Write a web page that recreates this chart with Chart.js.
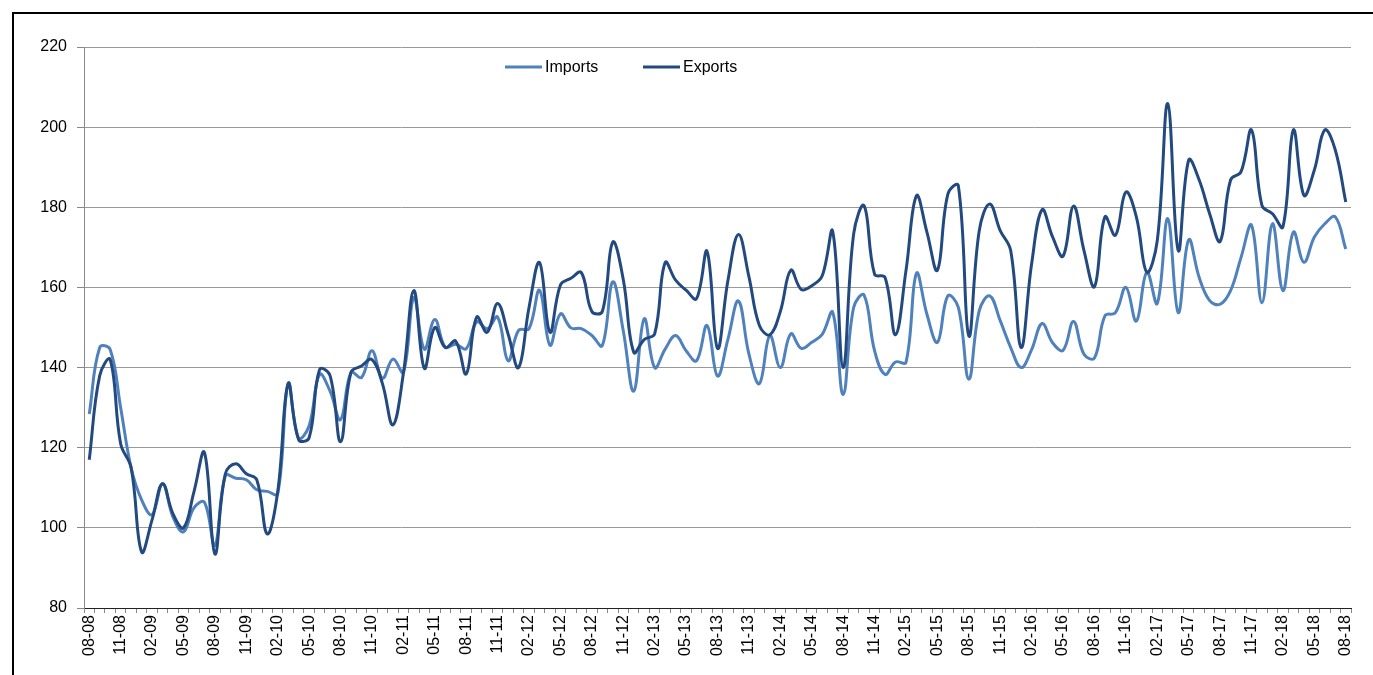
<!DOCTYPE html>
<html lang="en">
<head>
  <meta charset="UTF-8" />
  <title>Imports and Exports</title>
  <script src="https://cdn.jsdelivr.net/npm/chart.js"></script>
  <style>
    body {
      margin: 0;
      background: #fff;
      font-family: "Liberation Sans", Arial, sans-serif;
    }
    #frame {
      position: absolute;
      left: 12px;
      top: 12px;
      width: 1400px;
      height: 700px;
      border-top: 2px solid #000;
      border-left: 2px solid #000;
    }
    canvas {
      position: absolute;
      left: 0;
      top: 0;
    }
  </style>
</head>
<body>

<div id="frame"></div>
<canvas id="tradeChart" width="1373" height="675"></canvas>

<script>
  // months 08-08 .. 08-18, labelled MM-YY
  const months = [];
  for (let y = 8, m = 8; y < 18 || (y === 18 && m <= 8); ) {
    months.push(String(m).padStart(2, '0') + '-' + String(y).padStart(2, '0'));
    m++;
    if (m > 12) { m = 1; y++; }
  }

  const imports = [
    128.4, 145, 144.5, 130, 115, 107, 103.3, 111, 102.7, 99,
    105, 106.4, 95.6, 113, 112.4, 112, 109.5, 109.1, 108.5, 136,
    122.4, 125.5, 138.3, 134.1, 127, 138.8, 137.5, 144.2, 137.3, 142.1,
    138.8, 157.5, 144.6, 152, 145.1, 145.8, 144.7, 151.4, 149.7, 152.6,
    141.7, 149.3, 149.7, 159.3, 145.6, 153.4, 149.9, 149.7, 148, 145.5,
    161.4, 149.2, 134.1, 152.2, 140, 144.6, 148, 144.2, 141.7, 150.5,
    137.9, 147.1, 156.6, 143.4, 136, 148, 140, 148.4, 144.8, 146.3,
    148.3, 153.8, 133.3, 155, 158.1, 144.2, 138.3, 141.4, 141.3, 163.5,
    153.3, 146.3, 157.9, 155, 137.1, 154.2, 157.9, 151.7, 145, 140,
    144.5, 151, 146.2, 144.3, 151.5, 143.3, 142.4, 152.9, 153.7, 160,
    151.6, 163.8, 156, 177.2, 153.7, 171.9, 162.5, 156.7, 155.8, 159.2,
    167.5, 175.5, 156.2, 175.9, 159.2, 173.8, 166.3, 172.6, 175.9, 177.6,
    169.6
  ];

  const exports = [
    117, 138, 142, 121, 115, 94, 102, 111, 103.5, 100,
    109, 118.8, 93.5, 113.5, 116, 113.5, 112, 98.5, 109, 136,
    122, 122.5, 139.5, 138, 121.5, 138.8, 140.4, 142, 136, 125.7,
    138.5, 159.2, 139.8, 150, 145, 146.6, 138.4, 152.6, 148.8, 156,
    148.4, 140, 155, 166.2, 148.8, 160.6, 162.3, 163.7, 154, 154,
    171.3, 162, 143.8, 147, 148.4, 166.2, 161.8, 159.3, 157.2, 169,
    144.8, 161.8, 173.2, 162.7, 150.5, 148.2, 154, 164.3, 159.5, 160.4,
    162.9, 174, 140, 173.3, 180.4, 163.3, 162.5, 148.2, 164.2, 182.9,
    173.8, 164.3, 183.3, 185.4, 147.9, 174.2, 180.8, 174.2, 169.2, 145,
    165.9, 179.4, 172.6, 167.8, 180.3, 169.2, 160.2, 177.6, 173, 183.8,
    177.6, 163.8, 171.7, 205.9, 169.2, 191.8, 186.8, 178.4, 171.5, 186.8,
    188.9, 199.3, 180.4, 178.4, 175.1, 199.3, 183, 189.3, 199.3, 194.3,
    181.3
  ];

  const yTicks = [80, 100, 120, 140, 160, 180, 200, 220];

  const IMPORTS_COLOR = '#4f81bd';
  const EXPORTS_COLOR = '#234a80';
  const FONT = { family: '"Liberation Sans", Arial, sans-serif', size: 16 };

  // legend sits inside the plot area, like the original
  const innerLegend = {
    id: 'innerLegend',
    afterDraw(chart) {
      const ctx = chart.ctx;
      const y = 67;
      const items = [
        { x: 505, label: 'Imports', color: IMPORTS_COLOR },
        { x: 643, label: 'Exports', color: EXPORTS_COLOR }
      ];
      ctx.save();
      ctx.font = '16px "Liberation Sans", Arial, sans-serif';
      ctx.textBaseline = 'middle';
      ctx.fillStyle = '#000';
      items.forEach(it => {
        ctx.strokeStyle = it.color;
        ctx.lineWidth = 3;
        ctx.beginPath();
        ctx.moveTo(it.x, y);
        ctx.lineTo(it.x + 37, y);
        ctx.stroke();
        ctx.fillText(it.label, it.x + 40, y + 1);
      });
      ctx.restore();
    }
  };

  const ctx = document.getElementById('tradeChart').getContext('2d');
  new Chart(ctx, {
    type: 'line',
    data: {
      labels: months,
      datasets: [
        {
          label: 'Imports',
          data: imports,
          borderColor: IMPORTS_COLOR,
          borderWidth: 3,
          tension: 0.4,
          pointRadius: 0,
          order: 1
        },
        {
          label: 'Exports',
          data: exports,
          borderColor: EXPORTS_COLOR,
          borderWidth: 3,
          tension: 0.4,
          pointRadius: 0,
          order: 0
        }
      ]
    },
    plugins: [innerLegend],
    options: {
      responsive: false,
      animation: false,
      layout: {
        padding: { top: 47, right: 22, bottom: 0, left: 0 }
      },
      plugins: {
        legend: { display: false },
        tooltip: { enabled: false }
      },
      scales: {
        x: {
          type: 'category',
          offset: true,
          afterFit: s => { s.height = 67; },
          grid: {
            offset: true,
            drawOnChartArea: false,
            tickLength: 5,
            color: '#888'
          },
          border: { color: '#222', width: 1 },
          ticks: {
            autoSkip: false,
            maxRotation: 90,
            minRotation: 90,
            padding: 2,
            color: '#000',
            font: FONT,
            callback: (v, i) => (i % 3 === 0 ? months[i] : '')
          }
        },
        y: {
          min: yTicks[0],
          max: yTicks[yTicks.length - 1],
          afterFit: s => { s.width = 84; },
          afterBuildTicks: s => { s.ticks = yTicks.map(v => ({ value: v })); },
          grid: {
            color: '#999',
            tickLength: 7,
            tickColor: '#888'
          },
          border: { color: '#888' },
          ticks: {
            padding: 10,
            color: '#000',
            font: FONT
          }
        }
      }
    }
  });
</script>

</body>
</html>
